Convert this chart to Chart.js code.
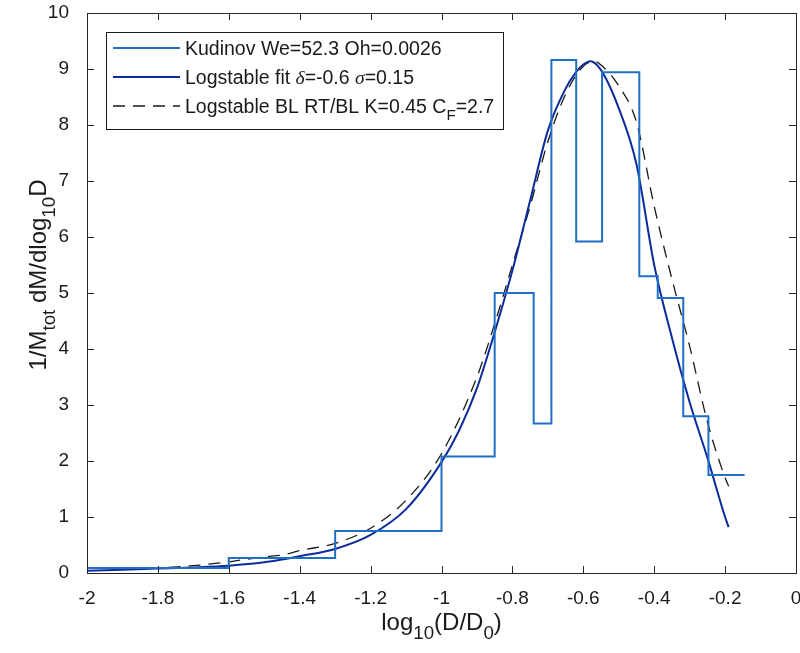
<!DOCTYPE html>
<html>
<head>
<meta charset="utf-8">
<script src="https://cdn.jsdelivr.net/npm/chart.js@4.4.1/dist/chart.umd.min.js"></script>
<style>
html, body { margin: 0; padding: 0; background: #fff; }
#wrap { width: 800px; height: 653px; }
</style>
</head>
<body>
<div id="wrap"><canvas id="myChart" width="800" height="653"></canvas></div>
<script>
// histogram (Kudinov) - bin edges + heights
const binEdges = [-2, -1.6, -1.3, -1.0, -0.85, -0.74, -0.69, -0.62, -0.547, -0.442, -0.39, -0.318, -0.247, -0.145];
const binHeights = [0.09, 0.27, 0.75, 2.08, 5.0, 2.67, 9.16, 5.92, 8.94, 5.30, 4.91, 2.80, 1.75];

// logstable fit (solid dark blue)
const fitX = [-2, -1.9, -1.8, -1.7, -1.6, -1.5, -1.45, -1.4, -1.3, -1.2, -1.1, -1.0, -0.95, -0.9, -0.85, -0.8, -0.75, -0.7, -0.65, -0.62, -0.6, -0.58, -0.55, -0.5, -0.45, -0.4, -0.35, -0.3, -0.25, -0.2, -0.19];
const fitY = [0.04, 0.06, 0.08, 0.10, 0.13, 0.19, 0.24, 0.30, 0.43, 0.68, 1.14, 1.98, 2.55, 3.3, 4.3, 5.4, 6.65, 7.9, 8.65, 8.95, 9.08, 9.14, 8.98, 8.3, 7.3, 5.5, 4.2, 3.05, 2.06, 1.0, 0.82];

// logstable BL RT/BL (black dashed)
const blX = [-1.77, -1.7, -1.6, -1.5, -1.45, -1.4, -1.3, -1.2, -1.1, -1.0, -0.9, -0.85, -0.8, -0.75, -0.7, -0.65, -0.6, -0.566, -0.55, -0.5, -0.45, -0.4, -0.35, -0.3, -0.25, -0.2, -0.19];
const blY = [0.10, 0.13, 0.20, 0.29, 0.32, 0.40, 0.53, 0.80, 1.30, 2.13, 3.5, 4.45, 5.5, 6.55, 7.7, 8.55, 9.05, 9.13, 9.07, 8.7, 8.05, 6.55, 5.25, 4.05, 2.7, 1.7, 1.55];

const xTicks = [-2, -1.8, -1.6, -1.4, -1.2, -1, -0.8, -0.6, -0.4, -0.2, 0];
const xTickLabels = ['-2', '-1.8', '-1.6', '-1.4', '-1.2', '-1', '-0.8', '-0.6', '-0.4', '-0.2', '0'];
const yTicks = [0, 1, 2, 3, 4, 5, 6, 7, 8, 9, 10];
const yTickLabels = ['0', '1', '2', '3', '4', '5', '6', '7', '8', '9', '10'];

const FONT = '"Liberation Sans", Arial, sans-serif';

// zamienia tablice x,y na punkty dla chart.js
function pts(xs, ys) {
    return xs.map((x, i) => ({ x: x, y: ys[i] }));
}

// schodki: kazdy punkt trzyma wartosc do nastepnej krawedzi
const histPts = binHeights.map((h, i) => ({ x: binEdges[i], y: h }));
histPts.push({ x: binEdges[binEdges.length - 1], y: binHeights[binHeights.length - 1] });

// rysuje tekst z indeksami dolnymi _{..}, greckie litery kursywa
function drawRich(ctx, str, x, y, size) {
    let parts = [];
    let i = 0;
    while (i < str.length) {
        if (str[i] === '_' && str[i + 1] === '{') {
            let j = str.indexOf('}', i);
            parts.push({ t: str.slice(i + 2, j), sub: true });
            i = j + 1;
        } else if ('δσ'.includes(str[i])) {
            parts.push({ t: str[i], greek: true });
            i++;
        } else {
            let j = i;
            while (j < str.length && !(str[j] === '_' && str[j + 1] === '{') && !'δσ'.includes(str[j])) j++;
            parts.push({ t: str.slice(i, j) });
            i = j;
        }
    }
    let fontOf = p => p.sub ? (size * 0.78) + 'px ' + FONT
        : p.greek ? 'italic ' + size + 'px "Liberation Serif", serif'
        : size + 'px ' + FONT;
    let total = 0;
    parts.forEach(p => { ctx.font = fontOf(p); p.w = ctx.measureText(p.t).width; total += p.w; });
    let cx = x;
    ctx.textBaseline = 'alphabetic';
    ctx.textAlign = 'left';
    parts.forEach(p => {
        ctx.font = fontOf(p);
        ctx.fillText(p.t, cx, p.sub ? y + size * 0.38 : y);
        cx += p.w;
    });
    return total;
}

function richWidth(ctx, str, size) {
    ctx.save();
    ctx.globalAlpha = 0;
    let w = drawRich(ctx, str, -9999, -9999, size);
    ctx.restore();
    return w;
}

// ramka + kreski do srodka jak w matlabie
const boxPlugin = {
    id: 'boxPlugin',
    afterDraw(chart) {
        const ctx = chart.ctx;
        const a = chart.chartArea;
        const xs = chart.scales.x, ys = chart.scales.y;
        ctx.save();
        ctx.strokeStyle = '#262626';
        ctx.lineWidth = 1;
        ctx.strokeRect(Math.round(a.left) + 0.5, Math.round(a.top) + 0.5, Math.round(a.right - a.left), Math.round(a.bottom - a.top));
        ctx.beginPath();
        const L = 7;
        xTicks.forEach(v => {
            let px = Math.round(xs.getPixelForValue(v)) + 0.5;
            ctx.moveTo(px, a.bottom); ctx.lineTo(px, a.bottom - L);
            ctx.moveTo(px, a.top); ctx.lineTo(px, a.top + L);
        });
        yTicks.forEach(v => {
            let py = Math.round(ys.getPixelForValue(v)) + 0.5;
            ctx.moveTo(a.left, py); ctx.lineTo(a.left + L, py);
            ctx.moveTo(a.right, py); ctx.lineTo(a.right - L, py);
        });
        ctx.stroke();

        // tytuly osi z indeksami
        ctx.fillStyle = '#1a1a1a';
        const xTitle = 'log_{10}(D/D_{0})';
        let w = richWidth(ctx, xTitle, 24);
        drawRich(ctx, xTitle, (a.left + a.right) / 2 - w / 2, 630, 24);

        const yTitle = '1/M_{tot} dM/dlog_{10}D';
        ctx.translate(46, 275);
        ctx.rotate(-Math.PI / 2);
        w = richWidth(ctx, yTitle, 24);
        drawRich(ctx, yTitle, -w / 2, 0, 24);
        ctx.restore();

        // legenda
        ctx.save();
        const bx = 106, by = 32, bw = 397, bh = 97;
        ctx.fillStyle = '#fff';
        ctx.fillRect(bx, by, bw, bh);
        ctx.strokeStyle = '#1a1a1a';
        ctx.lineWidth = 1;
        ctx.strokeRect(bx + 0.5, by + 0.5, bw, bh);
        chart.data.datasets.forEach((ds, i) => {
            let ry = by + 16 + i * 29;
            ctx.strokeStyle = ds.borderColor;
            ctx.lineWidth = ds.borderWidth;
            ctx.setLineDash(ds.borderDash || []);
            ctx.beginPath();
            ctx.moveTo(113, ry); ctx.lineTo(180, ry);
            ctx.stroke();
            ctx.setLineDash([]);
            ctx.fillStyle = '#1a1a1a';
            drawRich(ctx, ds.label, 185, ry + 7, 19.5);
        });
        ctx.restore();
    }
};

const ctx = document.getElementById('myChart').getContext('2d');
const myChart = new Chart(ctx, {
    type: 'line',
    data: {
        datasets: [
            {
                label: 'Kudinov We=52.3 Oh=0.0026',
                data: histPts,
                stepped: 'before',
                borderColor: '#1f6fc5',
                borderWidth: 2,
                pointRadius: 0,
                fill: false
            },
            {
                label: 'Logstable fit δ=-0.6 σ=0.15',
                data: pts(fitX, fitY),
                borderColor: '#0c2c9e',
                borderWidth: 2,
                pointRadius: 0,
                cubicInterpolationMode: 'monotone',
                fill: false
            },
            {
                label: 'Logstable BL RT/BL K=0.45 C_{F}=2.7',
                data: pts(blX, blY),
                borderColor: '#1a1a1a',
                borderWidth: 1.3,
                borderDash: [12, 8],
                pointRadius: 0,
                cubicInterpolationMode: 'monotone',
                fill: false
            }
        ]
    },
    options: {
        responsive: false,
        animation: false,
        devicePixelRatio: 1,
        layout: { padding: { left: 0, top: 13, right: 4, bottom: 0 } },
        plugins: {
            legend: { display: false },
            tooltip: { enabled: false }
        },
        scales: {
            x: {
                type: 'linear',
                min: -2,
                max: 0,
                afterBuildTicks: s => { s.ticks = xTicks.map(v => ({ value: v })); },
                afterFit: s => { s.height = 80; s.paddingLeft = 0; s.paddingRight = 0; },
                ticks: {
                    callback: (v, i) => xTickLabels[i],
                    color: '#1a1a1a',
                    font: { family: FONT, size: 19 },
                    maxRotation: 0,
                    autoSkip: false,
                    padding: 6
                },
                grid: { display: false },
                border: { display: false }
            },
            y: {
                type: 'linear',
                min: 0,
                max: 10,
                afterBuildTicks: s => { s.ticks = yTicks.map(v => ({ value: v })); },
                afterFit: s => { s.width = 87; s.paddingTop = 0; s.paddingBottom = 0; },
                ticks: {
                    callback: (v, i) => yTickLabels[i],
                    color: '#1a1a1a',
                    font: { family: FONT, size: 19 },
                    autoSkip: false,
                    padding: 10
                },
                grid: { display: false },
                border: { display: false }
            }
        }
    },
    plugins: [boxPlugin]
});
</script>
</body>
</html>
